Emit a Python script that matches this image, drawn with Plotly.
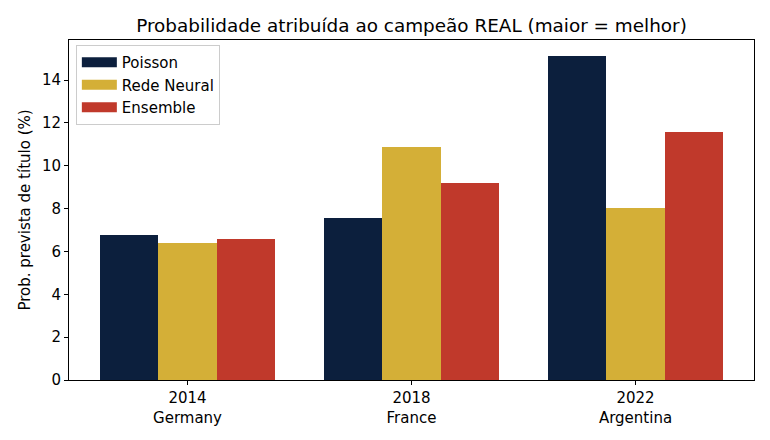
import plotly.graph_objects as go

categories = ["2014<br>Germany", "2018<br>France", "2022<br>Argentina"]
series_names = ["Poisson", "Rede Neural", "Ensemble"]
poisson = [6.77, 7.54, 15.12]
rede_neural = [6.39, 10.87, 8.03]
ensemble = [6.58, 9.19, 11.57]
colors = ["#0c1f3d", "#d4af37", "#c0392b"]
yticks = [0, 2, 4, 6, 8, 10, 12, 14]

width = 0.26
offsets = [-width, 0, width]
xs = list(range(len(categories)))

fig = go.Figure()
for name, vals, col, off in zip(series_names, [poisson, rede_neural, ensemble], colors, offsets):
    fig.add_trace(go.Bar(
        x=[x + off for x in xs], y=vals, name=name, width=width,
        marker=dict(color=col, line=dict(width=0)), showlegend=False,
    ))
# legend swatches (wide rectangles like the reference)
for name, col in zip(series_names, colors):
    fig.add_trace(go.Scatter(
        x=[None], y=[None], mode="lines", name=name,
        line=dict(color=col, width=11), showlegend=True,
    ))

font = "DejaVu Sans, sans-serif"
fig.update_layout(
    width=770, height=440,
    margin=dict(l=69, r=16, t=40, b=60),
    paper_bgcolor="white", plot_bgcolor="white",
    font=dict(family=font, size=15, color="black"),
    title=dict(text="Probabilidade atribuída ao campeão REAL (maior = melhor)",
               x=0.5, xref="paper", xanchor="center", y=1 - 26 / 440, yanchor="middle",
               font=dict(size=18.4, family=font, color="black")),
    legend=dict(x=0.01, y=0.985, xanchor="left", yanchor="top",
                bgcolor="rgba(255,255,255,0.8)", bordercolor="#cccccc", borderwidth=1,
                font=dict(size=15, family=font), itemwidth=35, tracegroupgap=0),
    bargap=0,
)
fig.update_xaxes(
    range=[-0.529, 2.529], tickmode="array", tickvals=xs, ticktext=categories,
    showline=True, linecolor="black", linewidth=1, mirror=True,
    ticks="outside", ticklen=4, tickcolor="black", showgrid=False, zeroline=False,
    tickfont=dict(size=15, family=font),
)
fig.update_yaxes(
    range=[0, 15.87], tickmode="array", tickvals=yticks,
    showline=True, linecolor="black", linewidth=1, mirror=True,
    ticks="outside", ticklen=4, tickcolor="black", showgrid=False, zeroline=False,
    title=dict(text="Prob. prevista de título (%)", font=dict(size=15, family=font), standoff=7),
    tickfont=dict(size=15, family=font),
)
fig.write_html("out.html")
